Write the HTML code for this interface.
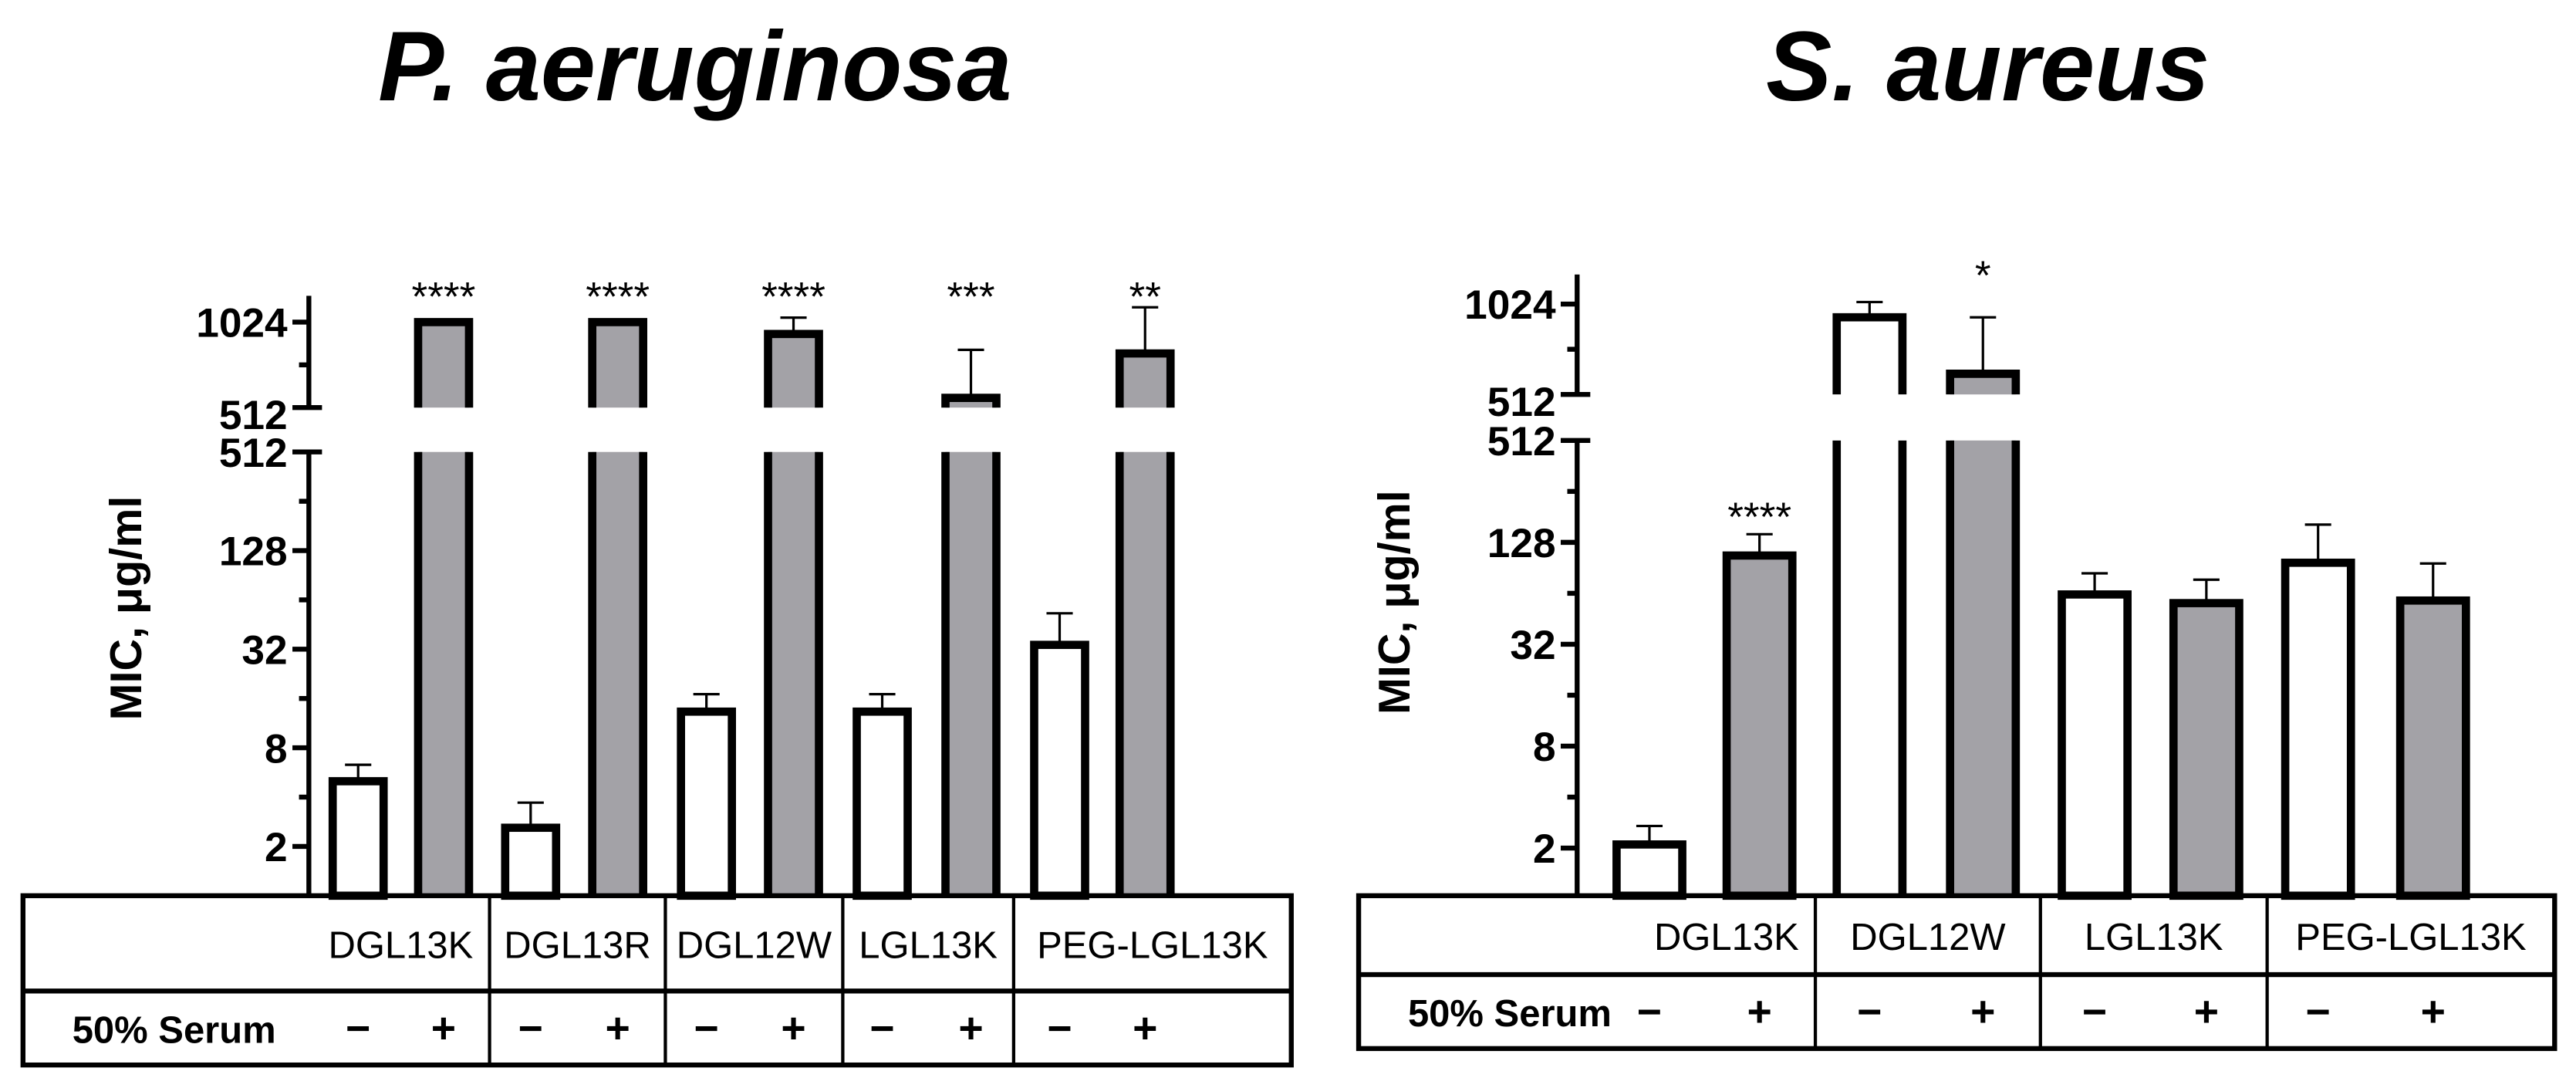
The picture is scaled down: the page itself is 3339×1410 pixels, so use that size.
<!DOCTYPE html>
<html><head><meta charset="utf-8"><style>
html,body{margin:0;padding:0;background:#fff;}
svg{display:block;}
text{font-family:"Liberation Sans",sans-serif;}
</style></head><body>
<svg id="fig" width="3339" height="1410" viewBox="0 0 1568 662" preserveAspectRatio="none" xmlns="http://www.w3.org/2000/svg">
<text x="423" y="61" text-anchor="middle" font-size="60" font-weight="bold" font-style="italic">P. aeruginosa</text>
<text x="1210" y="61" text-anchor="middle" font-size="60" font-weight="bold" font-style="italic">S. aureus</text>
</svg>
<script>
// ---- Left chart data (P. aeruginosa) ----
const leftGroups = ["DGL13K", "DGL13R", "DGL12W", "LGL13K", "PEG-LGL13K"];
const leftNoSerum = [5, 2.6, 13.3, 13.3, 34];
const leftNoSerumErr = [6.3, 3.7, 17, 17, 53];
const leftSerum = [1024, 1024, 930, 554, 794];
const leftSerumErr = [1024, 1024, 1062, 818, 1155];
const leftStars = ["****", "****", "****", "***", "**"];
// ---- Right chart data (S. aureus) ----
const rightGroups = ["DGL13K", "DGL12W", "LGL13K", "PEG-LGL13K"];
const rightNoSerum = [2.1, 925, 63, 97];
const rightNoSerumErr = [2.7, 1040, 84, 163];
const rightSerum = [107, 600, 56, 58];
const rightSerumErr = [143, 925, 77, 96];
const rightSerumStars = ["****", "*", "", ""];
const lowerTicks = [2, 8, 32, 128, 512];
const upperTicks = [512, 1024];

const svg = document.getElementById('fig');
const NS = 'http://www.w3.org/2000/svg';
function mk(tag, attrs, parent) {
  const e = document.createElementNS(NS, tag);
  for (const k in attrs) e.setAttribute(k, attrs[k]);
  (parent || svg).appendChild(e);
  return e;
}

function drawChart(cfg) {
  const g = mk('g', {});
  
  
  const yLow = v => cfg.low512 + (Math.log2(512) - Math.log2(v)) * cfg.lowPer2;
  const yUp = v => cfg.up512 - (Math.log2(v) - 9) * cfg.upPer2;
  const lowTop = cfg.low512, lowBot = cfg.tableTop;
  const upBot = cfg.up512, upTop = cfg.upTop;
  const ax1 = mk('line', {x1: cfg.axisX, x2: cfg.axisX, y1: upTop, y2: upBot, stroke: '#000', 'stroke-width': 3}, g);
  
  
  const ax2 = mk('line', {x1: cfg.axisX, x2: cfg.axisX, y1: lowTop, y2: lowBot, stroke: '#000', 'stroke-width': 3}, g);
  
  
  lowerTicks.forEach(t => {
    const y = yLow(t);
    mk('line', {x1: cfg.axisX - 10, x2: cfg.axisX + (t === 512 ? 8 : 0), y1: y, y2: y, stroke: '#000', 'stroke-width': 3}, g);
    const tx = mk('text', {x: cfg.axisX - 13, y: y + 9, 'text-anchor': 'end', 'font-size': 25, 'font-weight': 'bold'}, g);
    tx.textContent = t;
    
    
    if (t < 512) { const m = yLow(t * 2); mk('line', {x1: cfg.axisX - 6, x2: cfg.axisX, y1: m, y2: m, stroke: '#000', 'stroke-width': 3}, g); }
  });
  upperTicks.forEach(t => {
    const y = yUp(t);
    mk('line', {x1: cfg.axisX - 10, x2: cfg.axisX + (t === 512 ? 8 : 0), y1: y, y2: y, stroke: '#000', 'stroke-width': 3}, g);
    const tx = mk('text', {x: cfg.axisX - 13, y: y + (t === 512 ? 13 : 9), 'text-anchor': 'end', 'font-size': 25, 'font-weight': 'bold'}, g);
    tx.textContent = t;
    
    
  });
  const mm = yUp(724);
  mk('line', {x1: cfg.axisX - 6, x2: cfg.axisX, y1: mm, y2: mm, stroke: '#000', 'stroke-width': 3}, g);
  const yt = mk('text', {x: 0, y: 0, transform: `translate(${cfg.axisX - 102},${(lowTop + lowBot) / 2 - 40}) rotate(-90)`, 'text-anchor': 'middle', 'font-size': 27, 'font-weight': 'bold'}, g);
  yt.textContent = 'MIC, μg/ml';
  
  
  const n = cfg.groups.length;
  for (let i = 0; i < n; i++) {
    [[cfg.noSerum[i], cfg.noSerumErr[i], '#fff', cfg.whiteX[i], 'minus'], [cfg.serum[i], cfg.serumErr[i], '#a3a2a7', cfg.grayX[i], 'plus']].forEach(([v, e, fill, cx, kind], k) => {
      const x = cx - cfg.bw / 2;
      const sw = 5;
      let top, eTop;
      const bg = mk('g', {}, g);
      
      
      if (v > 512) {
        top = yUp(v); eTop = yUp(e);
        mk('rect', {x: x, y: lowTop, width: cfg.bw, height: lowBot - lowTop, fill: fill}, bg);
        mk('path', {d: `M${x},${lowTop}V${lowBot}M${x + cfg.bw},${lowTop}V${lowBot}`, stroke: '#000', 'stroke-width': sw, fill: 'none'}, bg);
        mk('rect', {x: x, y: top, width: cfg.bw, height: upBot - top, fill: fill}, bg);
        mk('path', {d: `M${x},${upBot}V${top}H${x + cfg.bw}V${upBot}`, stroke: '#000', 'stroke-width': sw, fill: 'none'}, bg);
      } else {
        top = yLow(v); eTop = yLow(e);
        mk('rect', {x: x, y: top, width: cfg.bw, height: lowBot - top, fill: fill, stroke: '#000', 'stroke-width': sw}, bg);
      }
      if (eTop < top - 1) {
        mk('path', {d: `M${cx},${top}V${eTop}M${cx - 8},${eTop}H${cx + 8}`, stroke: '#000', 'stroke-width': 1.5, fill: 'none'}, bg);
      }
      const st = k === 1 ? cfg.serumStars[i] : '';
      if (st) {
        const sy = v > 512 ? cfg.upStarY : Math.min(top, eTop) - 8;
        const s = mk('text', {x: cx, y: sy + 6, 'text-anchor': 'middle', 'font-size': 25}, g);
        s.textContent = st;
        
        
      }
    });
  }
  const T = cfg.tableTop, M = cfg.tableMid, B = cfg.tableBot;
  const tb = mk('g', {}, g);
  
  
  mk('rect', {x: cfg.tL, y: T, width: cfg.tR - cfg.tL, height: B - T, fill: 'none', stroke: '#000', 'stroke-width': 3}, tb);
  mk('line', {x1: cfg.tL, x2: cfg.tR, y1: M, y2: M, stroke: '#000', 'stroke-width': 3}, tb);
  cfg.divs.forEach(d => mk('line', {x1: d, x2: d, y1: T, y2: B, stroke: '#000', 'stroke-width': 2}, tb));
  const edges = [cfg.tL].concat(cfg.divs).concat([cfg.tR]);
  for (let i = 0; i < n; i++) {
    const attrs = i === 0
      ? {x: edges[1] - 10, 'text-anchor': 'end'}
      : {x: (edges[i] + edges[i + 1]) / 2, 'text-anchor': 'middle'};
    attrs.y = (T + M) / 2 + 9;
    attrs['font-size'] = 23;
    const t = mk('text', attrs, tb);
    t.textContent = cfg.groups[i];
    
    
    [[cfg.whiteX[i], '−', 'serum-minus'], [cfg.grayX[i], '+', 'serum-plus']].forEach(([cx, s, nm]) => {
      const tt = mk('text', {x: cx, y: (M + B) / 2 + 9, 'text-anchor': 'middle', 'font-size': 26, 'font-weight': 'bold'}, tb);
      tt.textContent = s;
      
      
    });
  }
  const sl = mk('text', {x: cfg.tL + 30, y: (M + B) / 2 + 9, 'font-size': 23, 'font-weight': 'bold'}, tb);
  sl.textContent = '50% Serum';
  
  
}

drawChart({
  name: 'chart-p-aeruginosa', groups: leftGroups,
  noSerum: leftNoSerum, noSerumErr: leftNoSerumErr, serum: leftSerum, serumErr: leftSerumErr,
  serumStars: leftStars,
  axisX: 188, low512: 275, lowPer2: 30, up512: 248, upPer2: 52, upTop: 180, upStarY: 183,
  tableTop: 545, tableMid: 603, tableBot: 648, tL: 14, tR: 786, divs: [298, 405, 513, 617],
  bw: 31, whiteX: [218, 323, 430, 537, 645], grayX: [270, 376, 483, 591, 697]
});
drawChart({
  name: 'chart-s-aureus', groups: rightGroups,
  noSerum: rightNoSerum, noSerumErr: rightNoSerumErr, serum: rightSerum, serumErr: rightSerumErr,
  serumStars: rightSerumStars,
  axisX: 960, low512: 268, lowPer2: 31, up512: 240, upPer2: 55, upTop: 167, upStarY: 170,
  tableTop: 545, tableMid: 593, tableBot: 638, tL: 827, tR: 1555, divs: [1105, 1242, 1380],
  bw: 40, whiteX: [1004, 1138, 1275, 1411], grayX: [1071, 1207, 1343, 1481]
});
</script>
</body></html>
